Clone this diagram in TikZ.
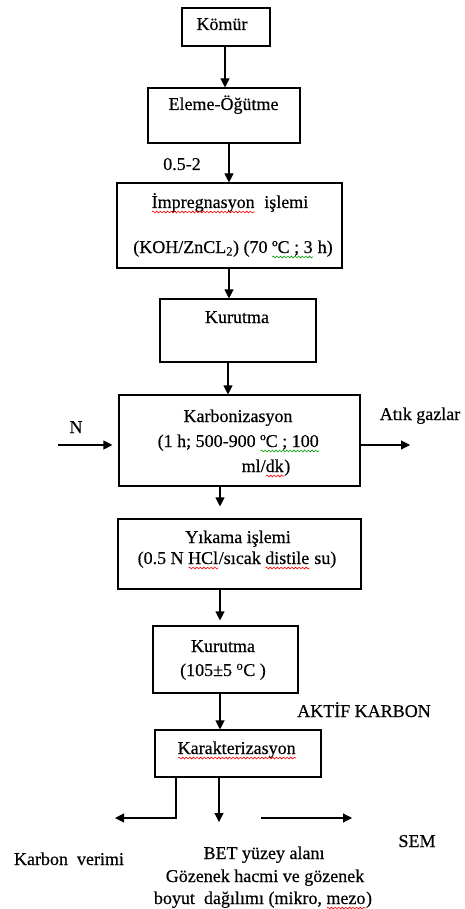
\documentclass[tikz,border=0pt]{standalone}
\usepackage{fontspec}
\setmainfont{Liberation Serif}[FakeBold=0.4]
\usetikzlibrary{arrows.meta,decorations.pathmorphing}
\newsavebox\wavybox
\newcommand\wavy[2]{\sbox\wavybox{#2}\rlap{\usebox\wavybox}\tikz[baseline=0pt,x=1cm,y=1cm]\draw[#1,line width=0.6pt,decorate,decoration={snake,amplitude=0.9pt,segment length=3.6pt}] (0pt,-4pt) -- (\wd\wavybox,-4pt);}
\begin{document}
\begin{tikzpicture}[x=1pt,y=-1pt,
  font=\fontsize{18}{21.6}\selectfont,
  box/.style 2 args={draw, line width=1.1pt, inner sep=0pt, minimum width=#1, minimum height=#2},
  txt/.style={anchor=base, inner sep=0pt},
  arr/.style={line width=1.1pt, -{Triangle[length=9pt,width=9pt]}}]
\useasboundingbox (0,0) rectangle (465,909);
% boxes
\node[box={88pt}{38pt}]  (komur)  at (226,27) {};
\node[box={152pt}{55pt}] (eleme)  at (224,115.5) {};
\node[box={225pt}{85pt}] (impreg) at (229.5,225.5) {};
\node[box={156pt}{63pt}] (kur1)   at (238,330.5) {};
\node[box={241pt}{91pt}] (karb)   at (239.5,440.5) {};
\node[box={243pt}{70pt}] (yik)    at (239.5,554) {};
\node[box={145pt}{67pt}] (kur2)   at (225.5,659.5) {};
\node[box={166pt}{47pt}] (karak)  at (238,753.5) {};
% texts
\node[txt] (tkomur) at (222,30) {Kömür};
\node[txt] (televe) at (223.5,110) {Eleme-Öğütme};
\node[txt] (toran) at (182,170) {0.5-2};
\node[txt] (timp1) at (230,208) {\wavy{red}{İmpregnasyon}\ \ işlemi};
\node[txt] (timp2) at (233,253) {(KOH/ZnCL\textsubscript{2}) (70 \wavy{green!60!black}{ºC ; 3} h)};
\node[txt] (tkur1) at (237,323) {Kurutma};
\node[txt] (tkarb1) at (238,422) {Karbonizasyon};
\node[txt] (tkarb2) at (238.5,447) {(1 h; 500-900 \wavy{green!60!black}{ºC ; 100}};
\node[txt] (tkarb3) at (266,472) {ml/\wavy{red}{dk})};
\node[txt] (tN) at (76,433) {N};
\node[txt] (tatik) at (420,420) {Atık gazlar};
\node[txt] (tyik1) at (238,543) {Yıkama işlemi};
\node[txt] (tyik2) at (237,564) {(0.5 N \wavy{red}{HCl}/sıcak \wavy{red}{distile} su)};
\node[txt] (tkur2a) at (223,652) {Kurutma};
\node[txt] (tkur2b) at (223,676) {(105±5 \textsuperscript{o}C )};
\node[txt] (taktif) at (364,717) {AKTİF KARBON};
\node[txt] (tkarak) at (237,754) {\wavy{red}{Karakterizasyon}};
\node[txt] (tsem) at (417,847) {SEM};
\node[txt] (tkv) at (69,865) {Karbon\ \ verimi};
\node[txt] (tbet1) at (264,859) {BET yüzey alanı};
\node[txt] (tbet2) at (265,882) {Gözenek hacmi ve gözenek};
\node[txt] (tbet3) at (263,904) {boyut\ \ dağılımı (mikro, \wavy{red}{mezo})};
% connectors
\draw[arr] (225,0 |- komur.south) -- (225,0 |- eleme.north);
\draw[arr] (229,0 |- eleme.south) -- (229,0 |- impreg.north);
\draw[arr] (229,0 |- impreg.south) -- (229,0 |- kur1.north);
\draw[arr] (228,0 |- kur1.south) -- (228,0 |- karb.north);
\draw[arr, shorten >=12pt] (220,0 |- karb.south) -- (220,0 |- yik.north);
\draw[arr, shorten >=5pt] (220,0 |- yik.south) -- (220,0 |- kur2.north);
\draw[arr] (220,0 |- kur2.south) -- (220,0 |- karak.north);
\coordinate (nIn) at (58,445);
\draw[arr, shorten >=6pt] (nIn) -- (nIn -| karb.west);
\coordinate (atikEnd) at (410,445);
\draw[arr] (atikEnd -| karb.east) -- (atikEnd);
\coordinate (kvEnd) at (115,818);
\draw[arr] (176,0 |- karak.south) |- (kvEnd);
\coordinate (betEnd) at (219,822);
\draw[arr] (betEnd |- karak.south) -- (betEnd);
\coordinate (semStart) at (261,818);
\coordinate (semEnd) at (352,818);
\draw[arr] (semStart) -- (semEnd);
\end{tikzpicture}
\end{document}
